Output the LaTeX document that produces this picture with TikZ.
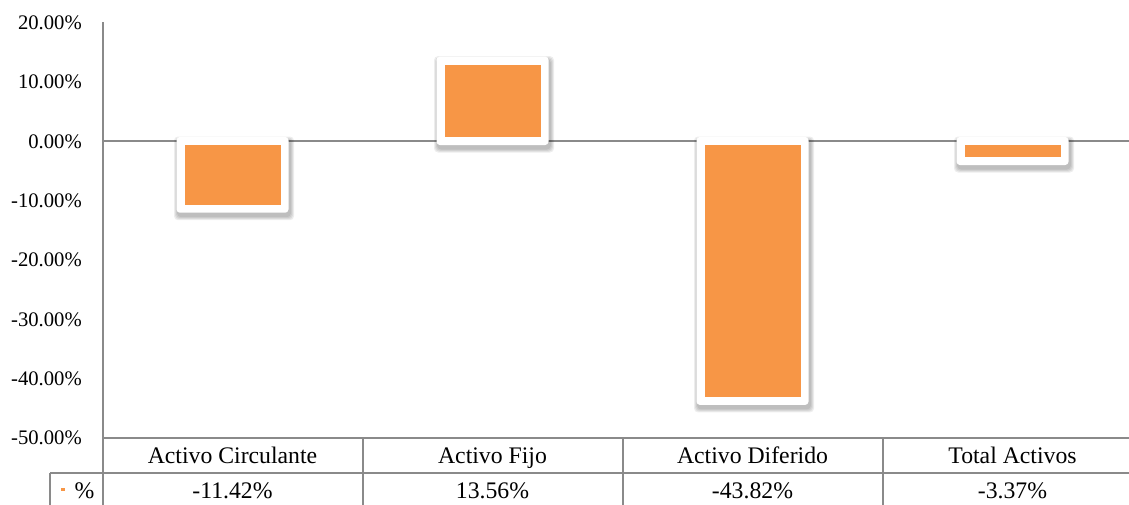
\documentclass[tikz,border=0pt]{standalone}
\usepackage{fontspec}
\setmainfont{Liberation Serif}
\definecolor{barorange}{HTML}{F79646}
\definecolor{axisgray}{HTML}{8A8A8A}
\begin{document}
\begin{tikzpicture}[x=0.75pt,y=-0.75pt,
  axisline/.style={draw=axisgray,line width=1.5pt},
  ylab/.style={anchor=base east,inner sep=0pt,font=\fontsize{15.5}{17}\selectfont},
  cell/.style={anchor=base,inner sep=0pt,font=\fontsize{17.8}{19}\selectfont},
  shadowlayer/.style={fill=black,opacity=0.07,rounded corners=3pt},
  frame/.style={fill=white,rounded corners=2.5pt},
  barfill/.style={fill=barorange}]
\useasboundingbox (0,0) rectangle (1129,504);
\clip (0,0) rectangle (1129,504);
% axis and grid/table lines
\draw[axisline] (102.5,22) -- (102.5,510);
\draw[axisline] (102.5,141) -- (1140,141);
\draw[axisline] (102.5,437.7) -- (1140,437.7);
\draw[axisline] (50,473) -- (1140,473);
\draw[axisline] (50,473) -- (50,510);
\foreach \xx in {362.5,622.5,882.5}{\draw[axisline] (\xx,437.7) -- (\xx,510);}
% y labels
\foreach \v/\lab [count=\i] in {0/20.00\%,1/10.00\%,2/0.00\%,3/-10.00\%,4/-20.00\%,5/-30.00\%,6/-40.00\%,7/-50.00\%}{
  \node[ylab] (yl\i) at (82,{29.5+59.3*\v}) {\lab};
}
% bars: centre x, top y, bottom y
\foreach \cx/\ya/\yb in {232.5/141/208.7, 492.5/60.6/141, 752.5/141/400.9, 1012.5/141/161}{
  \foreach \s in {1,2,3,4}{
    \fill[shadowlayer] ({\cx-52-4-\s+1.5},{\ya-4-\s+3.5}) rectangle ({\cx+52+4+\s+1.5},{\yb+4+\s+3.5});
  }
  \fill[frame] ({\cx-52-4},{\ya-4}) rectangle ({\cx+52+4},{\yb+4});
  \fill[barfill] ({\cx-52+4},{\ya+4}) rectangle ({\cx+52-4},{\yb-4});
}
% table
\node[cell] (c1) at (232.5,463.5) {Activo Circulante};
\node[cell] (c2) at (492.5,463.5) {Activo Fijo};
\node[cell] (c3) at (752.5,463.5) {Activo Diferido};
\node[cell] (c4) at (1012.5,463.5) {Total Activos};
\node[cell] (v1) at (232.5,498) {-11.42\%};
\node[cell] (v2) at (492.5,498) {13.56\%};
\node[cell] (v3) at (752.5,498) {-43.82\%};
\node[cell] (v4) at (1012.5,498) {-3.37\%};
\node[cell] (leg) at (84.5,498) {\%};
\fill[barorange] (61,487.5) rectangle (64.5,491);
\end{tikzpicture}
\end{document}
